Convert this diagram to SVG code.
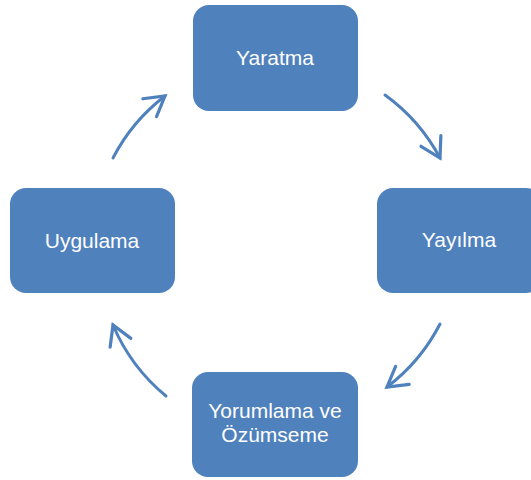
<svg xmlns="http://www.w3.org/2000/svg" width="531" height="480" viewBox="0 0 531 480">
<style>
.box{fill:#4F81BD;}
.lbl{font-family:"Liberation Sans",Arial,sans-serif;font-size:21px;fill:#FFFFFF;text-anchor:middle;}
.arc{fill:none;stroke:#4F81BD;stroke-width:3;stroke-linecap:round;marker-end:url(#head);}
</style>
<defs>
<marker id="head" markerUnits="userSpaceOnUse" markerWidth="30" markerHeight="30" viewBox="-22 -14 26 28" refX="0" refY="0" orient="auto">
<path d="M-18,-10.5 L0,0 L-18,10.5" fill="none" stroke="#4F81BD" stroke-width="3" stroke-linecap="round" stroke-linejoin="miter"/>
</marker>
</defs>
<g id="connectors">
<path class="arc" d="M385,95 A185,185 0 0 1 440,158"/>
<path class="arc" d="M440,324 A185,185 0 0 1 387,387"/>
<path class="arc" d="M166,396 A185,185 0 0 1 113,325"/>
<path class="arc" d="M113,158 A185,185 0 0 1 165,96"/>
</g>
<g id="yaratma">
<rect class="box" x="193" y="5" width="165" height="106" rx="16"/>
<text class="lbl" x="275" y="65">Yaratma</text>
</g>
<g id="yayilma">
<rect class="box" x="377" y="188" width="165" height="105" rx="16"/>
<text class="lbl" x="459" y="247">Yayılma</text>
</g>
<g id="yorumlama">
<rect class="box" x="192" y="372" width="166" height="105" rx="16"/>
<text class="lbl" x="275" y="418">Yorumlama ve</text>
<text class="lbl" x="275" y="442">Özümseme</text>
</g>
<g id="uygulama">
<rect class="box" x="10" y="188" width="165" height="105" rx="16"/>
<text class="lbl" x="92" y="248">Uygulama</text>
</g>
</svg>
